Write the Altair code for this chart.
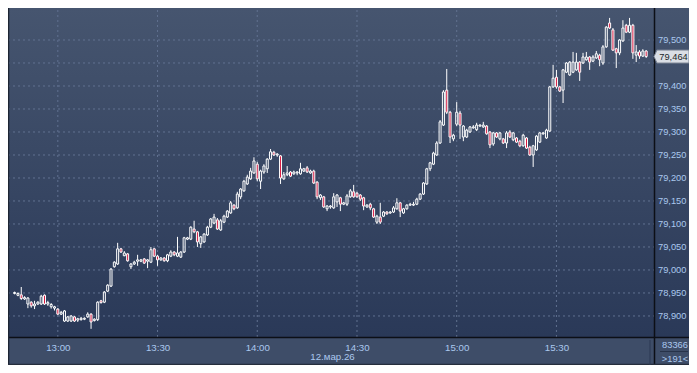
import altair as alt
import pandas as pd

# ---------------- data (1-minute candles, 12:47 .. 15:57) ----------------
opens = [78.949,78.945,78.946,78.937,78.926,78.930,78.922,78.926,78.926,78.945,
         78.926,78.920,78.917,78.915,78.904,78.889,78.889,78.889,78.898,78.891,
         78.892,78.893,78.898,78.904,78.890,78.892,78.933,78.930,78.954,78.965,
         79.007,79.013,79.046,79.031,79.035,79.007,79.013,79.019,79.019,79.024,
         79.019,79.017,79.046,79.030,79.022,79.026,79.020,79.030,79.039,79.030,
         79.028,79.039,79.067,79.067,79.089,79.083,79.057,79.061,79.076,79.093,
         79.102,79.109,79.087,79.104,79.115,79.124,79.141,79.135,79.159,79.172,
         79.187,79.198,79.211,79.230,79.193,79.213,79.220,79.241,79.256,79.250,
         79.248,79.198,79.207,79.213,79.209,79.211,79.209,79.215,79.222,79.211,
         79.215,79.191,79.157,79.159,79.133,79.137,79.135,79.148,79.157,79.143,
         79.143,79.159,79.170,79.167,79.163,79.157,79.137,79.143,79.133,79.104,
         79.115,79.117,79.126,79.124,79.126,79.133,79.146,79.124,79.133,79.141,
         79.141,79.143,79.154,79.165,79.187,79.220,79.230,79.250,79.276,79.315,
         79.391,79.343,79.285,79.317,79.341,79.289,79.289,79.300,79.309,79.305,
         79.313,79.311,79.313,79.300,79.274,79.298,79.285,79.285,79.276,79.300,
         79.283,79.287,79.280,79.270,79.287,79.267,79.250,79.261,79.278,79.296,
         79.287,79.302,79.398,79.419,79.398,79.391,79.430,79.424,79.430,79.435,
         79.452,79.450,79.457,79.463,79.454,79.461,79.467,79.450,79.485,79.537,
         79.522,79.481,79.472,79.498,79.532,79.517,79.532,79.467,79.474,79.465,
         79.476]
highs = [78.953,78.951,78.963,78.943,78.941,78.932,78.933,78.932,78.946,78.947,
         78.933,78.928,78.922,78.917,78.911,78.913,78.900,78.902,78.900,78.896,
         78.898,78.897,78.908,78.906,78.895,78.932,78.935,78.954,78.969,79.004,
         79.019,79.059,79.048,79.041,79.037,79.015,79.020,79.033,79.024,79.026,
         79.024,79.050,79.048,79.033,79.028,79.028,79.035,79.043,79.041,79.072,
         79.041,79.072,79.072,79.095,79.107,79.085,79.074,79.080,79.096,79.113,
         79.122,79.113,79.111,79.120,79.130,79.150,79.143,79.170,79.178,79.196,
         79.207,79.222,79.245,79.235,79.218,79.230,79.243,79.263,79.259,79.254,
         79.250,79.213,79.226,79.215,79.216,79.215,79.233,79.222,79.226,79.218,
         79.218,79.193,79.165,79.161,79.141,79.141,79.167,79.165,79.159,79.148,
         79.165,79.176,79.185,79.170,79.165,79.159,79.143,79.146,79.135,79.120,
         79.146,79.128,79.128,79.128,79.139,79.156,79.148,79.135,79.143,79.146,
         79.148,79.157,79.167,79.191,79.222,79.235,79.257,79.280,79.326,79.391,
         79.437,79.346,79.296,79.365,79.346,79.315,79.307,79.313,79.315,79.320,
         79.317,79.322,79.315,79.302,79.300,79.300,79.300,79.287,79.302,79.304,
         79.300,79.289,79.283,79.296,79.289,79.270,79.272,79.293,79.300,79.300,
         79.307,79.400,79.446,79.435,79.400,79.437,79.452,79.454,79.474,79.472,
         79.454,79.472,79.474,79.465,79.467,79.476,79.470,79.489,79.530,79.548,
         79.526,79.483,79.502,79.543,79.535,79.548,79.535,79.489,79.478,79.480,
         79.478]
lows = [78.947,78.943,78.935,78.935,78.917,78.918,78.915,78.924,78.924,78.924,
        78.922,78.916,78.912,78.902,78.902,78.887,78.887,78.887,78.887,78.887,
        78.890,78.891,78.896,78.872,78.888,78.889,78.927,78.928,78.952,78.963,
        79.005,79.011,79.037,79.030,79.018,79.002,79.011,79.009,79.017,79.013,
        79.004,79.015,79.028,79.009,79.020,79.018,79.017,79.028,79.030,79.028,
        79.026,79.037,79.065,79.065,79.080,79.050,79.048,79.059,79.074,79.091,
        79.100,79.087,79.085,79.102,79.113,79.122,79.130,79.133,79.154,79.170,
        79.185,79.196,79.209,79.193,79.176,79.209,79.211,79.239,79.248,79.246,
        79.187,79.196,79.204,79.202,79.207,79.206,79.207,79.213,79.211,79.209,
        79.187,79.154,79.152,79.135,79.128,79.133,79.133,79.137,79.128,79.141,
        79.139,79.157,79.157,79.157,79.150,79.130,79.135,79.130,79.113,79.100,
        79.100,79.115,79.120,79.122,79.124,79.131,79.115,79.122,79.131,79.139,
        79.139,79.141,79.152,79.163,79.185,79.215,79.228,79.248,79.274,79.313,
        79.339,79.276,79.280,79.313,79.285,79.280,79.287,79.298,79.307,79.302,
        79.311,79.309,79.294,79.265,79.270,79.287,79.282,79.274,79.265,79.287,
        79.280,79.276,79.267,79.268,79.263,79.248,79.224,79.259,79.276,79.294,
        79.285,79.300,79.396,79.394,79.387,79.363,79.428,79.422,79.428,79.433,
        79.411,79.448,79.455,79.435,79.452,79.459,79.443,79.446,79.483,79.524,
        79.476,79.439,79.467,79.496,79.515,79.515,79.459,79.452,79.459,79.463,
        79.461]
closes = [78.951,78.949,78.938,78.940,78.939,78.922,78.926,78.930,78.943,78.926,
          78.929,78.925,78.920,78.904,78.908,78.911,78.898,78.900,78.889,78.894,
          78.895,78.895,78.904,78.887,78.893,78.930,78.929,78.952,78.967,79.002,
          79.017,79.046,79.039,79.037,79.020,79.013,79.017,79.022,79.022,79.015,
          79.022,79.044,79.030,79.022,79.026,79.020,79.033,79.039,79.033,79.037,
          79.039,79.070,79.070,79.093,79.083,79.061,79.072,79.078,79.093,79.111,
          79.115,79.089,79.107,79.117,79.128,79.146,79.133,79.165,79.176,79.193,
          79.202,79.215,79.237,79.198,79.215,79.226,79.241,79.257,79.250,79.252,
          79.200,79.207,79.211,79.204,79.213,79.213,79.220,79.220,79.213,79.215,
          79.189,79.159,79.163,79.137,79.139,79.139,79.159,79.163,79.143,79.146,
          79.161,79.172,79.159,79.159,79.154,79.139,79.141,79.135,79.115,79.117,
          79.104,79.126,79.122,79.126,79.135,79.146,79.128,79.133,79.141,79.143,
          79.143,79.154,79.165,79.189,79.220,79.233,79.254,79.276,79.322,79.387,
          79.343,79.289,79.293,79.343,79.315,79.313,79.304,79.311,79.311,79.315,
          79.315,79.315,79.296,79.272,79.298,79.289,79.298,79.276,79.298,79.289,
          79.298,79.278,79.270,79.293,79.265,79.250,79.270,79.291,79.298,79.298,
          79.304,79.398,79.417,79.398,79.389,79.435,79.450,79.452,79.452,79.452,
          79.430,79.463,79.463,79.452,79.463,79.470,79.457,79.485,79.528,79.526,
          79.478,79.472,79.500,79.526,79.517,79.532,79.472,79.474,79.465,79.476,
          79.464]

first_candle = "2026-03-12 12:47"
y_ticks = [78.90, 78.95, 79.00, 79.05, 79.10, 79.15, 79.20, 79.25, 79.30,
           79.35, 79.40, 79.45, 79.50]
x_ticks = ["13:00", "13:30", "14:00", "14:30", "15:00", "15:30"]
date_label = "12.мар.26"
counter_text = "83366"

# ---------------- styling ----------------
FONT = "Liberation Sans"
FS = 9.3
LABEL = "#abc8ee"
BG_OUT = "#bcc8d8"
UP_FILL = "transparent"
DOWN_FILL = "#d8173f"
GRID = "#617190"

times = pd.date_range(first_candle, periods=len(closes), freq="min")
df = pd.DataFrame({
    "t": times.strftime("%Y-%m-%dT%H:%M:%S"),
    "o": opens, "h": highs, "l": lows, "c": closes,
})
df["bt"] = df[["o", "c"]].max(axis=1)
df["bb"] = df[["o", "c"]].min(axis=1)

W, H = 646, 327          # plot area (page x 9..655, y 10..337)
RIGHT = 680              # right edge of panel in plot coords (page 689)
BOT = 355                # bottom edge of panel in plot coords (page 365)

xscale = alt.Scale(domain=[
    alt.DateTime(year=2026, month=3, date=12, hours=12, minutes=46, seconds=49),
    alt.DateTime(year=2026, month=3, date=12, hours=15, minutes=58, seconds=9)])
yscale = alt.Scale(domain=[78.8543, 79.5652], nice=False, zero=False)

xaxis = alt.Axis(
    values=[alt.DateTime(year=2026, month=3, date=12,
                         hours=int(s[:2]), minutes=int(s[3:])) for s in x_ticks],
    format="%H:%M", grid=False, ticks=False, domain=False,
    labelColor=LABEL, labelFont=FONT, labelFontSize=FS + 0.4, labelPadding=5,
    labelFlush=False, title=date_label, titleColor=LABEL, titleFont=FONT,
    titleFontSize=FS + 0.4, titleFontWeight="normal", titlePadding=0, zindex=1)
yaxis = alt.Axis(
    orient="right", values=[v for v in y_ticks if v != 79.45],
    labelExpr="replace(format(datum.value, '.3f'), '.', ',')",
    grid=False, ticks=False, domain=False, labelColor=LABEL, labelFont=FONT,
    labelFontSize=FS, labelPadding=2.5, title=None, zindex=1)

one = alt.Chart(pd.DataFrame({"k": [0]}))

panel = one.mark_rect(
    fill=alt.LinearGradient(gradient="linear", x1=0, x2=0, y1=0, y2=1,
                            stops=[alt.GradientStop(color="#46556f", offset=0),
                                   alt.GradientStop(color="#2a3958", offset=1)])
).encode(x=alt.value(-1), x2=alt.value(RIGHT), y=alt.value(-2), y2=alt.value(H))

bottom_strip = one.mark_rect(fill="#3e4d68").encode(
    x=alt.value(-1), x2=alt.value(RIGHT), y=alt.value(H), y2=alt.value(BOT))

def rule(x1, x2, y1, y2, color, w=1.0):
    return one.mark_rule(color=color, strokeWidth=w).encode(
        x=alt.value(x1), x2=alt.value(x2), y=alt.value(y1), y2=alt.value(y2))

lines = [
    rule(-1, RIGHT, H + 0.5, H + 0.5, "#0c0f16", 1.5),       # plot bottom
    rule(645.5, 645.5, -2, BOT, "#0c0f16", 1.5),              # plot right
    rule(-0.5, -0.5, -2, BOT, "#1d2533", 1.5),                # left border
    rule(-1, RIGHT, BOT - 0.5, BOT - 0.5, "#262e3c", 1.5),    # bottom border
    rule(641, 641, H + 3, BOT, "#2b3852", 1),                 # small marker
    rule(651, 679, H + 14.5, H + 14.5, "#27334a", 1),         # cell separator
]

hgrid = alt.Chart(pd.DataFrame({"p": y_ticks})).mark_rule(
    color=GRID, strokeWidth=1, strokeDash=[2, 3]
).encode(y=alt.Y("p:Q", scale=yscale, axis=yaxis))

vgrid = alt.Chart(pd.DataFrame({"t": ["2026-03-12T" + s + ":00" for s in x_ticks]})).mark_rule(
    color=GRID, strokeWidth=1, strokeDash=[2, 3]
).encode(x=alt.X("t:T", scale=xscale, axis=xaxis))

X = alt.X("t:T", scale=xscale, axis=xaxis)

wick_hi = alt.Chart(df).mark_rule(color="white", strokeWidth=1, clip=True).encode(
    x=X, y=alt.Y("h:Q", scale=yscale, axis=yaxis), y2="bt:Q")
wick_lo = alt.Chart(df).mark_rule(color="white", strokeWidth=1, clip=True).encode(
    x=X, y=alt.Y("bb:Q", scale=yscale, axis=yaxis), y2="l:Q")
bodies = alt.Chart(df).mark_bar(size=2, stroke="white", strokeWidth=1, clip=True).encode(
    x=X, y=alt.Y("bt:Q", scale=yscale, axis=yaxis), y2="bb:Q",
    fill=alt.condition("datum.c < datum.o", alt.value(DOWN_FILL), alt.value(UP_FILL)))

last = df.tail(1)
# price tag: left-pointing arrow box, page x 654..689
box_path = "M-1,0 L-0.83,-0.37 L1,-0.37 L1,0.37 L-0.83,0.37 Z"
price_box = alt.Chart(last).mark_point(
    shape=box_path, size=1225, filled=True, fill="#dadee5", stroke="#7d8696",
    strokeWidth=1, opacity=1
).encode(x=alt.value(662.5), y=alt.Y("c:Q", scale=yscale, axis=yaxis))
price_text = alt.Chart(last).transform_calculate(
    lbl="replace(format(datum.c, '.3f'), '.', ',')"
).mark_text(font=FONT, fontSize=FS, color="#1b1f28", align="center", baseline="middle").encode(
    x=alt.value(664.5), y=alt.Y("c:Q", scale=yscale, axis=yaxis), text="lbl:N")

cell_top = one.mark_text(text=counter_text, font=FONT, fontSize=FS, color=LABEL,
                         align="center", baseline="middle").encode(
    x=alt.value(666), y=alt.value(H + 8))
cell_bot = alt.Chart(pd.DataFrame({"n": [len(df)]})).transform_calculate(
    lbl="'>' + datum.n + '<'"
).mark_text(font=FONT, fontSize=FS, color=LABEL, align="center", baseline="middle").encode(
    x=alt.value(666), y=alt.value(H + 22), text="lbl:N")

chart = alt.layer(
    panel, bottom_strip, hgrid, vgrid, *lines,
    wick_hi, wick_lo, bodies, price_box, price_text, cell_top, cell_bot
).properties(
    width=W, height=H,
    padding={"left": 1, "top": 2, "right": 34, "bottom": 28},
    autosize=alt.AutoSizeParams(type="none"),
    background=BG_OUT,
).configure_view(strokeWidth=0)

chart.save("out.html", embed_options={"renderer": "svg", "actions": False})
